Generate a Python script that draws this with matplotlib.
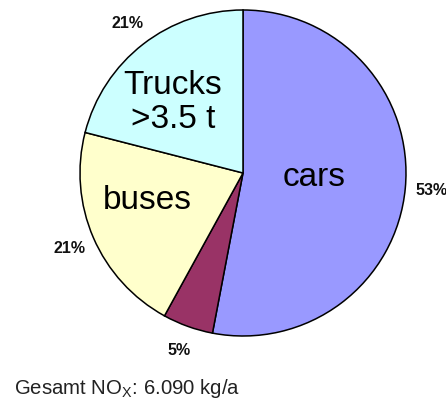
import numpy as np
import matplotlib
matplotlib.use("Agg")
import matplotlib.pyplot as plt

plt.rcParams["font.family"] = ["Liberation Sans", "DejaVu Sans"]
plt.rcParams["mathtext.fontset"] = "custom"
plt.rcParams["mathtext.rm"] = "Liberation Sans"
plt.rcParams["mathtext.it"] = "Liberation Sans"

# NOx share by vehicle class (clockwise from 12 o'clock)
categories = ["cars", "other", "buses", "Trucks\n>3.5 t"]
shares = [53, 5, 21, 21]
colors = ["#9999ff", "#993366", "#ffffcc", "#ccffff"]
total_label = r"Gesamt NO$_{\mathrm{X}}$: 6.090 kg/a"

# inside-label placement: (radius fraction, angle offset in deg) per wedge
inner_pos = [(0.44, 2), None, (0.61, -7.5), (0.61, 7)]

W, H = 446, 405
fig = plt.figure(figsize=(W / 100, H / 100), dpi=100)
ax = fig.add_axes([0, 0, 1, 1])

cx, cy, r = 243, H - 173, 163
wedges, texts, autotexts = ax.pie(
    shares, colors=colors, startangle=90, counterclock=False,
    center=(cx, cy), radius=r, frame=True,
    autopct=lambda p: f"{round(p):d}%", pctdistance=1.16,
    wedgeprops=dict(edgecolor="black", linewidth=1.1),
    textprops=dict(fontsize=11.5, fontweight="bold", color="#111111"),
)
ax.set_xlim(0, W)
ax.set_ylim(0, H)
ax.axis("off")

for w, name, pos in zip(wedges, categories, inner_pos):
    if pos is None:
        continue
    frac, off = pos
    ang = np.deg2rad((w.theta1 + w.theta2) / 2 + off)
    ax.text(cx + frac * r * np.cos(ang), cy + frac * r * np.sin(ang), name,
            ha="center", va="center", fontsize=24, color="black",
            linespacing=1.1)

fig.text(14 / W, 1 - 389 / H, total_label, fontsize=14.7, color="#222222",
         ha="left", va="center")

fig.savefig("out.png", dpi=100, facecolor="white")
